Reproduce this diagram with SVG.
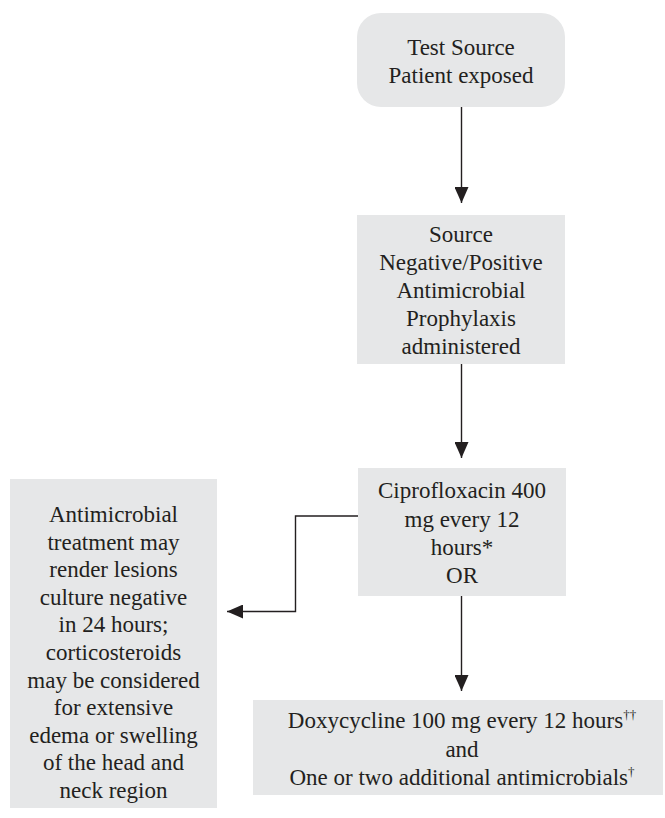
<svg xmlns="http://www.w3.org/2000/svg" width="665" height="818" viewBox="0 0 665 818">
  <style>
    .box { fill: #e6e7e8; stroke: none; }
    .t { font-family: 'Liberation Serif', 'DejaVu Serif', 'Times New Roman', Times, serif; font-size: 23px; fill: #231f20; text-anchor: middle; }
    .sup { font-size: 13px; fill: #231f20; }
    .conn { fill: none; stroke: #231f20; stroke-width: 1.4; }
  </style>
  <defs>
    <marker id="arrow" markerUnits="userSpaceOnUse" markerWidth="16" markerHeight="14" refX="16" refY="7" orient="auto">
      <path d="M0,0 L16,7 L0,14 Z" fill="#231f20"/>
    </marker>
  </defs>

  <g id="connectors">
    <line class="conn" x1="461.5" y1="107" x2="461.5" y2="203" marker-end="url(#arrow)"/>
    <line class="conn" x1="461.5" y1="364" x2="461.5" y2="458" marker-end="url(#arrow)"/>
    <line class="conn" x1="461.5" y1="596" x2="461.5" y2="691" marker-end="url(#arrow)"/>
    <polyline class="conn" points="358,516 295.5,516 295.5,611.5 227,611.5" marker-end="url(#arrow)"/>
  </g>

  <g id="node-test-source">
    <rect class="box" x="357" y="13" width="208" height="94" rx="24" ry="24"/>
    <text class="t" x="461" y="55">Test Source</text>
    <text class="t" x="461" y="83">Patient exposed</text>
  </g>

  <g id="node-source">
    <rect class="box" x="357" y="215" width="208" height="149"/>
    <text class="t" x="461" y="242">Source</text>
    <text class="t" x="461" y="270">Negative/Positive</text>
    <text class="t" x="461" y="298">Antimicrobial</text>
    <text class="t" x="461" y="326">Prophylaxis</text>
    <text class="t" x="461" y="354">administered</text>
  </g>

  <g id="node-cipro">
    <rect class="box" x="358" y="468" width="208" height="128"/>
    <text class="t" x="462" y="498">Ciprofloxacin 400</text>
    <text class="t" x="462" y="527">mg every 12</text>
    <text class="t" x="462" y="555">hours*</text>
    <text class="t" x="462" y="583">OR</text>
  </g>

  <g id="node-antimicrobial-note">
    <rect class="box" x="10" y="479" width="207" height="329"/>
    <text class="t" x="113.5" y="522">Antimicrobial</text>
    <text class="t" x="113.5" y="549.6">treatment may</text>
    <text class="t" x="113.5" y="577.2">render lesions</text>
    <text class="t" x="113.5" y="604.8">culture negative</text>
    <text class="t" x="113.5" y="632.4">in 24 hours;</text>
    <text class="t" x="113.5" y="660">corticosteroids</text>
    <text class="t" x="113.5" y="687.6">may be considered</text>
    <text class="t" x="113.5" y="715.2">for extensive</text>
    <text class="t" x="113.5" y="742.8">edema or swelling</text>
    <text class="t" x="113.5" y="770.4">of the head and</text>
    <text class="t" x="113.5" y="798">neck region</text>
  </g>

  <g id="node-doxy">
    <rect class="box" x="253" y="700" width="410" height="95"/>
    <text class="t" x="462" y="728">Doxycycline 100 mg every 12 hours<tspan class="sup" dy="-9">††</tspan></text>
    <text class="t" x="462" y="757">and</text>
    <text class="t" x="462" y="785">One or two additional antimicrobials<tspan class="sup" dy="-9">†</tspan></text>
  </g>
</svg>
